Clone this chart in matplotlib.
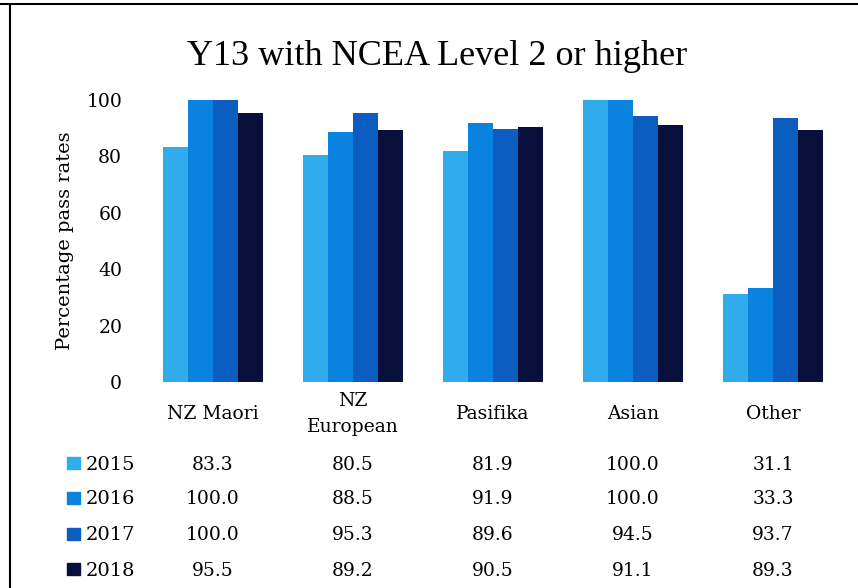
import matplotlib.pyplot as plt
import numpy as np
from matplotlib.patches import Rectangle
from matplotlib.lines import Line2D
from matplotlib.transforms import blended_transform_factory

plt.rcParams['font.family'] = ['DejaVu Serif']

categories = ['NZ Maori', 'NZ\nEuropean', 'Pasifika', 'Asian', 'Other']
years = ['2015', '2016', '2017', '2018']
v2015 = [83.3, 80.5, 81.9, 100.0, 31.1]
v2016 = [100.0, 88.5, 91.9, 100.0, 33.3]
v2017 = [100.0, 95.3, 89.6, 94.5, 93.7]
v2018 = [95.5, 89.2, 90.5, 91.1, 89.3]
series = [v2015, v2016, v2017, v2018]
colors = ['#30abec', '#0a83e0', '#0b5dc0', '#070f3a']

fig = plt.figure(figsize=(8.58, 5.88), dpi=100)
ax = fig.add_axes([0.1748, 0.3503, 0.8042, 0.4796])

x = np.arange(len(categories))
w = 0.18
for i, (vals, c) in enumerate(zip(series, colors)):
    ax.bar(x + (i - 1.5) * w, vals, w, color=c)

ax.set_xlim(-0.45, 4.479)
ax.set_ylim(0, 100)
ax.set_yticks(range(0, 101, 20))
ax.tick_params(axis='y', length=0, labelsize=13.5, pad=20)
ax.set_xticks([])
for s in ax.spines.values():
    s.set_visible(False)

fig.text(0.0758, 0.59, 'Percentage pass rates', rotation=90, ha='center',
         va='center', fontsize=14)
fig.text(0.51, 1 - 65 / 588, 'Y13 with NCEA Level 2 or higher', ha='center',
         va='baseline', fontsize=26, family='Liberation Serif')

# category labels under the bars
for xi, cat in zip(x, categories):
    ax.text(xi, -0.1135, cat, transform=ax.get_xaxis_transform(), ha='center',
            va='center', fontsize=13.5, linespacing=1.6)

# data table below the chart
row_c = [463, 498, 534, 569]
tr = blended_transform_factory(ax.transData, fig.transFigure)
for yr, vals, c, rc in zip(years, series, colors, row_c):
    base = 1 - (rc + 6.5) / 588
    fig.patches.append(Rectangle((0.078, 1 - (rc + 6) / 588), 0.0152, 0.0204,
                                 transform=fig.transFigure, color=c))
    fig.text(0.1002, base, yr, ha='left', va='baseline', fontsize=14)
    for xi, v in zip(x, vals):
        ax.text(xi, base, f'{v:.1f}', transform=tr, ha='center', va='baseline',
                fontsize=13.5)

# frame border lines
fig.add_artist(Line2D([0.012, 0.012], [0, 0.99], transform=fig.transFigure,
                      color='black', lw=1.5))
fig.add_artist(Line2D([0.0, 1.0], [0.993, 0.993], transform=fig.transFigure,
                      color='black', lw=1.5))

fig.savefig('out.png', dpi=100)
